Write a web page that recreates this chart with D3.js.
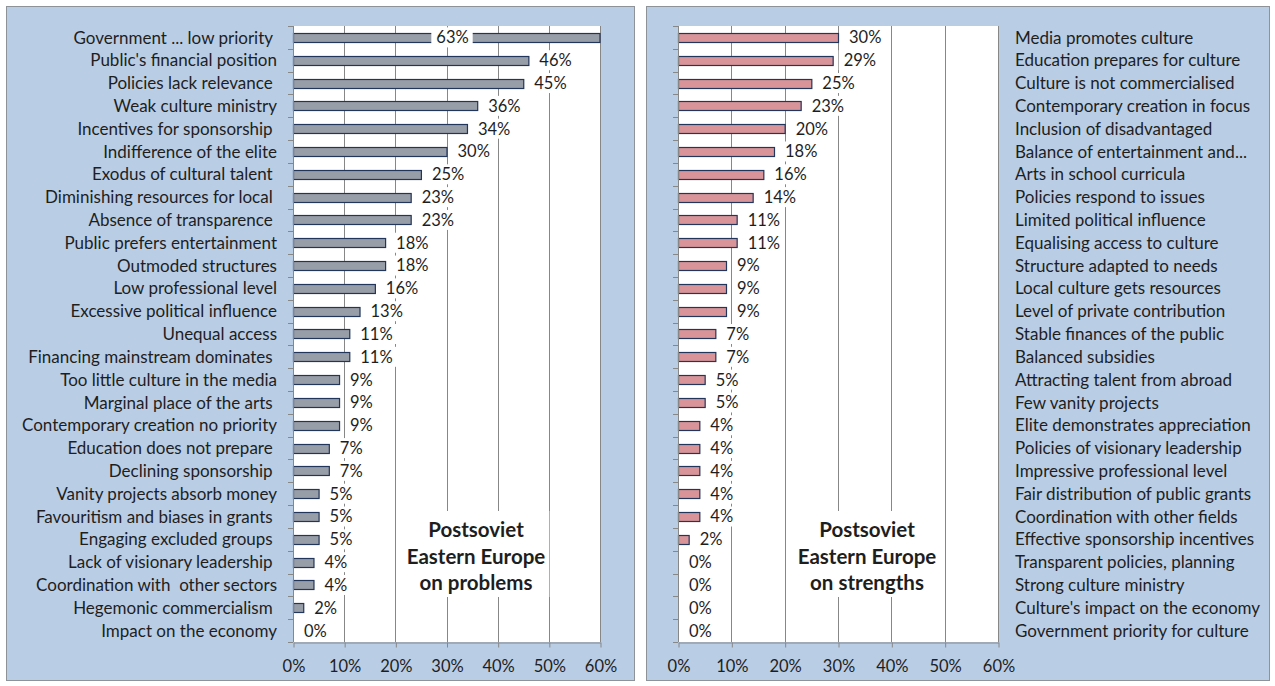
<!DOCTYPE html>
<html><head><meta charset="utf-8">
<script src="https://cdn.jsdelivr.net/npm/d3@7"></script>
<style>
body{margin:0;background:#fff}
svg text{font-family:Lato,"Open Sans",sans-serif;fill:#1e1e1e}
</style>
</head><body>
<svg id="chart" width="1275" height="686"></svg>
<script>
// ---- data ----
const problemCategories = [
  "Government ... low priority ", "Public's financial position", "Policies lack relevance ",
  "Weak culture ministry", "Incentives for sponsorship ", "Indifference of the elite",
  "Exodus of cultural talent ", "Diminishing resources for local ", "Absence of transparence ",
  "Public prefers entertainment", "Outmoded structures", "Low professional level",
  "Excessive political influence", "Unequal access", "Financing mainstream dominates ",
  "Too little culture in the media", "Marginal place of the arts ", "Contemporary creation no priority",
  "Education does not prepare ", "Declining sponsorship ", "Vanity projects absorb money",
  "Favouritism and biases in grants ", "Engaging excluded groups ", "Lack of visionary leadership ",
  "Coordination with  other sectors", "Hegemonic commercialism ", "Impact on the economy"
];
const problemValues = [63, 46, 45, 36, 34, 30, 25, 23, 23, 18, 18, 16, 13, 11, 11, 9, 9, 9, 7, 7, 5, 5, 5, 4, 4, 2, 0];

const strengthCategories = [
  "Media promotes culture", "Education prepares for culture", "Culture is not commercialised",
  "Contemporary creation in focus", "Inclusion of disadvantaged", "Balance of entertainment and...",
  "Arts in school curricula", "Policies respond to issues", "Limited political influence",
  "Equalising access to culture", "Structure adapted to needs", "Local culture gets resources",
  "Level of private contribution", "Stable finances of the public", "Balanced subsidies",
  "Attracting talent from abroad", "Few vanity projects", "Elite demonstrates appreciation",
  "Policies of visionary leadership", "Impressive professional level", "Fair distribution of public grants",
  "Coordination with other fields", "Effective sponsorship incentives", "Transparent policies, planning",
  "Strong culture ministry", "Culture's impact on the economy", "Government priority for culture"
];
const strengthValues = [30, 29, 25, 23, 20, 18, 16, 14, 11, 11, 9, 9, 9, 7, 7, 5, 5, 4, 4, 4, 4, 4, 2, 0, 0, 0, 0];

const xTickValues = [0, 10, 20, 30, 40, 50, 60];
const problemTitle = ["Postsoviet", "Eastern Europe", "on problems"];
const strengthTitle = ["Postsoviet", "Eastern Europe", "on strengths"];

// ---- drawing ----
const svg = d3.select("#chart");
const panels = [
  {cats: problemCategories, vals: problemValues, title: problemTitle,
   box: [6.5, 6.5, 628, 674], plot: [293, 600, 26, 642], side: "left",
   fill: "#989ea7", titleX: 476},
  {cats: strengthCategories, vals: strengthValues, title: strengthTitle,
   box: [646.5, 6.5, 623, 674], plot: [678, 998, 26, 642], side: "right",
   fill: "#d9949a", titleX: 867}
];

const fmt = d => d + "%";
const gridColor = "#878787";
const catFont = "17px";
const valFont = "16.5px";

panels.forEach(p => {
  const [bx, by, bw, bh] = p.box;
  const [x0, x1, yTop, yBot] = p.plot;
  const g = svg.append("g");

  g.append("rect").attr("x", bx).attr("y", by).attr("width", bw).attr("height", bh)
    .attr("fill", "#b9cde5").attr("stroke", "#8e9399").attr("stroke-width", 1);

  g.append("rect").attr("x", x0).attr("y", yTop).attr("width", x1 - x0).attr("height", yBot - yTop)
    .attr("fill", "#fff");

  const x = d3.scaleLinear().domain([0, 60]).range([x0, x1]);
  const y = d3.scaleBand().domain(p.cats).range([yTop, yBot]).padding(0);
  const step = y.step();
  const barH = 9;

  // gridlines
  g.append("g").selectAll("line").data(xTickValues.filter(d => d > 0)).join("line")
    .attr("x1", d => Math.round(x(d)) + 0.5).attr("x2", d => Math.round(x(d)) + 0.5)
    .attr("y1", yTop).attr("y2", yBot)
    .attr("stroke", gridColor).attr("stroke-width", 1);

  // bars
  g.append("g").selectAll("rect").data(p.cats.map((c, i) => ({c, v: p.vals[i]})).filter(d => d.v > 0))
    .join("rect")
    .attr("x", x(0) + 0.5)
    .attr("y", d => Math.round(y(d.c) + (step - barH) / 2) + 0.5)
    .attr("width", d => Math.max(0, x(Math.min(d.v, 60)) - x(0) - (d.v > 60 ? 0.5 : 0)))
    .attr("height", barH)
    .attr("fill", p.fill).attr("stroke", "#22355a").attr("stroke-width", 1.2);

  // title box
  const tg = g.append("g");
  const tRect = tg.append("rect").attr("fill", "#fff");
  const tText = tg.append("text").attr("text-anchor", "middle")
    .style("font-weight", "bold").style("font-size", "20.5px");
  p.title.forEach((t, i) => {
    tText.append("tspan").attr("x", p.titleX).attr("y", 537 + i * 26.5).text(t);
  });
  const tb = tText.node().getBBox();
  tRect.attr("x", tb.x - 4).attr("y", tb.y - 6).attr("width", tb.width + 8).attr("height", tb.height + 9);

  // data labels with white boxes
  const lg = g.append("g");
  p.cats.forEach((c, i) => {
    const v = p.vals[i];
    const cy = y(c) + step / 2;
    const lab = lg.append("g");
    const r = lab.append("rect").attr("fill", "#fff");
    const t = lab.append("text").style("font-size", valFont).attr("dy", "0.36em").attr("y", cy).text(fmt(v));
    if (v > 60) {
      t.attr("text-anchor", "middle").attr("x", (x0 + x1) / 2 + 6);
    } else {
      t.attr("text-anchor", "start").attr("x", x(v) + 11);
    }
    const b = t.node().getBBox();
    r.attr("x", b.x - 5).attr("y", cy - 10).attr("width", b.width + 9).attr("height", 20);
  });

  // y axis with ticks at band boundaries
  const yAx = g.append("g");
  yAx.append("line").attr("x1", x0 + 0.5).attr("x2", x0 + 0.5).attr("y1", yTop).attr("y2", yBot)
    .attr("stroke", gridColor);
  yAx.selectAll("line.tk").data(d3.range(p.cats.length + 1)).join("line").attr("class", "tk")
    .attr("x1", x0 - 5).attr("x2", x0)
    .attr("y1", i => Math.round(yTop + i * step) + 0.5).attr("y2", i => Math.round(yTop + i * step) + 0.5)
    .attr("stroke", gridColor);

  // category labels
  g.append("g").selectAll("text").data(p.cats).join("text")
    .attr("x", p.side === "left" ? x0 - 16 : x1 + 17)
    .attr("y", d => y(d) + step / 2).attr("dy", "0.36em")
    .attr("text-anchor", p.side === "left" ? "end" : "start")
    .style("font-size", catFont).style("white-space", "pre")
    .text(d => d);

  // x axis
  const xa = g.append("g").attr("transform", `translate(0.5,${yBot + 0.5})`)
    .call(d3.axisBottom(x).tickValues(xTickValues).tickFormat(fmt).tickSize(5).tickSizeOuter(0).tickPadding(13));
  xa.select(".domain").attr("stroke", gridColor);
  xa.selectAll(".tick line").attr("stroke", gridColor);
  xa.selectAll(".tick text").style("font-size", valFont).style("font-family", "Lato,'Open Sans',sans-serif").attr("fill", "#1e1e1e");
});
</script>
</body></html>
